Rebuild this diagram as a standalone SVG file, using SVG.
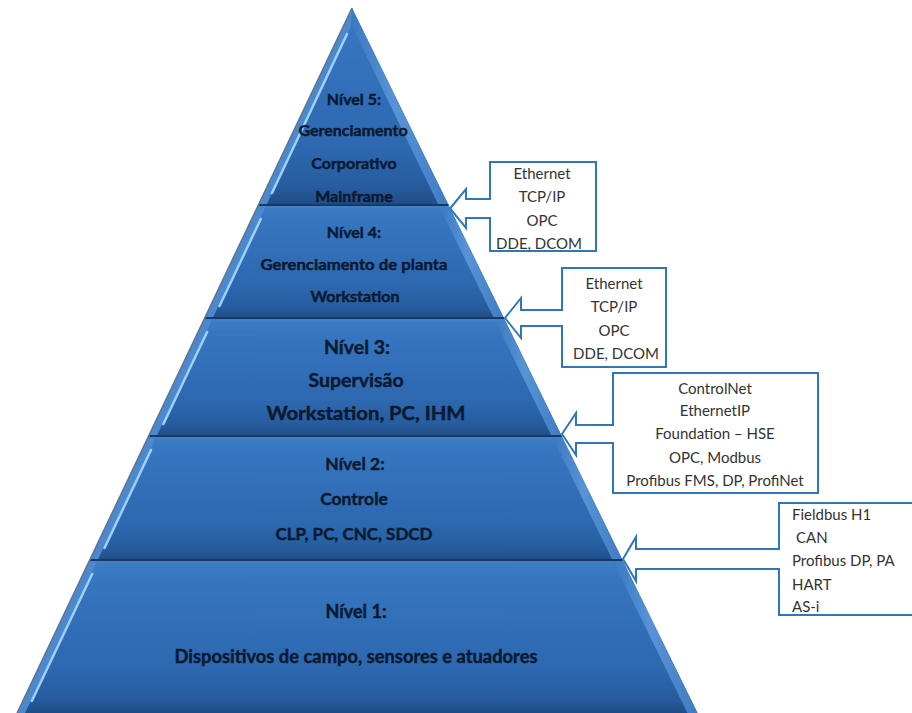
<svg xmlns="http://www.w3.org/2000/svg" width="912" height="713" viewBox="0 0 912 713">
  <defs>
    <linearGradient id="bandFill" x1="0" y1="0" x2="0" y2="1">
      <stop offset="0" stop-color="#3f7fc7"/>
      <stop offset="0.12" stop-color="#3676c0"/>
      <stop offset="0.7" stop-color="#2d68b0"/>
      <stop offset="0.9" stop-color="#275d9f"/>
      <stop offset="1" stop-color="#1f4c86"/>
    </linearGradient>
    <linearGradient id="rightBevel" x1="0" y1="0" x2="1" y2="0">
      <stop offset="0" stop-color="#3a78c0"/>
      <stop offset="0.45" stop-color="#5893d6"/>
      <stop offset="1" stop-color="#3f7cc3"/>
    </linearGradient>
    <filter id="soft" x="-5%" y="-5%" width="110%" height="110%">
      <feGaussianBlur stdDeviation="0.6"/>
    </filter>
  </defs>
  <style>
    .band { fill: url(#bandFill); }
    .lbevel { fill: #4b89cf; }
    .rbevel { fill: url(#rightBevel); }
    .hilite { stroke: #9fd0f6; stroke-width: 2.5; stroke-linecap: round; fill: none; }
    .sep { stroke: #183963; stroke-width: 2; }
    .sepl { stroke: #4583c8; stroke-width: 1; }
    .edge { stroke: #5f7592; stroke-width: 1.6; fill: none; }
    .lvl { font-family: Lato, "Liberation Sans", sans-serif; font-weight: bold; fill: #0c1a30; stroke: #0c1a30; stroke-width: 0.45; text-anchor: middle; }
    .call { fill: #ffffff; stroke: #2f77bd; stroke-width: 2; stroke-linejoin: miter; }
    .ct { font-family: Lato, "Liberation Sans", sans-serif; font-size: 15px; fill: #333333; }
    .ctc { text-anchor: middle; }
  </style>

  <rect width="912" height="713" fill="#ffffff"/>

  <!-- Pyramid bands, top to bottom -->
  <g id="level5">
    <polygon class="band" points="352,8 448.5,205 258.4,205"/>
    <polygon class="lbevel" points="352,8 258.4,205 266.4,205 352,24" filter="url(#soft)"/>
    <polygon class="rbevel" points="352,8 448.5,205 438.5,205 351,24" filter="url(#soft)"/>
    <line class="hilite" x1="347" y1="34" x2="272" y2="193" filter="url(#soft)"/>
    <text class="lvl" x="354" y="105" font-size="16">Nível 5:</text>
    <text class="lvl" x="353" y="136" font-size="16">Gerenciamento</text>
    <text class="lvl" x="354" y="169" font-size="16">Corporativo</text>
    <text class="lvl" x="354" y="202" font-size="16">Mainframe</text>
  </g>

  <g id="level4">
    <polygon class="band" points="258.4,205 448.5,205 503.9,318 204.75,318"/>
    <polygon class="lbevel" points="258.4,205 204.75,318 212.75,318 266.4,205" filter="url(#soft)"/>
    <polygon class="rbevel" points="448.5,205 503.9,318 493.9,318 438.5,205" filter="url(#soft)"/>
    <line class="hilite" x1="260.8" y1="219" x2="219.5" y2="306" filter="url(#soft)"/>
    <text class="lvl" x="354" y="238" font-size="16">Nível 4:</text>
    <text class="lvl" x="354" y="270" font-size="16" textLength="187" lengthAdjust="spacingAndGlyphs">Gerenciamento de planta</text>
    <text class="lvl" x="355" y="302" font-size="16">Workstation</text>
  </g>

  <g id="level3">
    <polygon class="band" points="204.75,318 503.9,318 561.7,436 148.7,436"/>
    <polygon class="lbevel" points="204.75,318 148.7,436 156.7,436 212.75,318" filter="url(#soft)"/>
    <polygon class="rbevel" points="503.9,318 561.7,436 551.7,436 493.9,318" filter="url(#soft)"/>
    <line class="hilite" x1="207.1" y1="332" x2="163.4" y2="424" filter="url(#soft)"/>
    <text class="lvl" x="357" y="354" font-size="19.5">Nível 3:</text>
    <text class="lvl" x="356" y="387" font-size="19.5">Supervisão</text>
    <text class="lvl" x="366" y="420" font-size="19.5" textLength="199" lengthAdjust="spacingAndGlyphs">Workstation, PC, IHM</text>
  </g>

  <g id="level2">
    <polygon class="band" points="148.7,436 561.7,436 622.5,560 89.8,560"/>
    <polygon class="lbevel" points="148.7,436 89.8,560 97.8,560 156.7,436" filter="url(#soft)"/>
    <polygon class="rbevel" points="561.7,436 622.5,560 612.5,560 551.7,436" filter="url(#soft)"/>
    <line class="hilite" x1="151" y1="450" x2="104.5" y2="548" filter="url(#soft)"/>
    <text class="lvl" x="355" y="470" font-size="17.5">Nível 2:</text>
    <text class="lvl" x="354" y="505" font-size="17.5">Controle</text>
    <text class="lvl" x="354" y="540" font-size="17.5" textLength="157" lengthAdjust="spacingAndGlyphs">CLP, PC, CNC, SDCD</text>
  </g>

  <g id="level1">
    <polygon class="band" points="89.8,560 622.5,560 697.5,713 17.1,713"/>
    <polygon class="lbevel" points="89.8,560 17.1,713 25.1,713 97.8,560" filter="url(#soft)"/>
    <polygon class="rbevel" points="622.5,560 697.5,713 687.5,713 612.5,560" filter="url(#soft)"/>
    <line class="hilite" x1="92.2" y1="574" x2="31.8" y2="701" filter="url(#soft)"/>
    <text class="lvl" x="356" y="618" font-size="18">Nível 1:</text>
    <text class="lvl" x="356" y="663" font-size="18" textLength="363" lengthAdjust="spacingAndGlyphs">Dispositivos de campo, sensores e atuadores</text>
  </g>

  <!-- Band separators and outer left edge -->
  <g id="separators">
    <line class="sep" x1="258.4" y1="205" x2="448.5" y2="205"/>
    <line class="sepl" x1="258" y1="207" x2="449" y2="207"/>
    <line class="sep" x1="204.75" y1="318" x2="503.9" y2="318"/>
    <line class="sepl" x1="205" y1="320" x2="504" y2="320"/>
    <line class="sep" x1="148.7" y1="436" x2="561.7" y2="436"/>
    <line class="sepl" x1="148" y1="438" x2="562" y2="438"/>
    <line class="sep" x1="89.8" y1="560" x2="622.5" y2="560"/>
    <line class="sepl" x1="89" y1="562" x2="623" y2="562"/>
    <polyline class="edge" points="352,8 17.1,713"/>
  </g>

  <!-- Protocol callouts pointing at the level boundaries -->
  <g id="connectors">
    <g id="callout-54">
      <path class="call" d="M490,162 H596 V251 H490 V218 H466 V228 L450,208.5 L466,189 V199 H490 Z"/>
      <text class="ct ctc" x="542" y="179">Ethernet</text>
      <text class="ct ctc" x="542" y="202">TCP/IP</text>
      <text class="ct ctc" x="542" y="226">OPC</text>
      <text class="ct ctc" x="539" y="249">DDE, DCOM</text>
    </g>
    <g id="callout-43">
      <path class="call" d="M562,268 H666 V367 H562 V326 H521 V338 L505,318 L521,298 V310 H562 Z"/>
      <text class="ct ctc" x="614" y="289">Ethernet</text>
      <text class="ct ctc" x="614" y="312">TCP/IP</text>
      <text class="ct ctc" x="614" y="336">OPC</text>
      <text class="ct ctc" x="616" y="359">DDE, DCOM</text>
    </g>
    <g id="callout-32">
      <path class="call" d="M613,373 H818 V493 H613 V443 H576 V455 L562,434 L576,413 V425 H613 Z"/>
      <text class="ct ctc" x="715" y="394">ControlNet</text>
      <text class="ct ctc" x="715" y="416">EthernetIP</text>
      <text class="ct ctc" x="715" y="439">Foundation – HSE</text>
      <text class="ct ctc" x="715" y="463">OPC, Modbus</text>
      <text class="ct ctc" x="715" y="486">Profibus FMS, DP, ProfiNet</text>
    </g>
    <g id="callout-21">
      <path class="call" d="M779,503 H914 V615 H779 V569 H636 V581 L623,559 L636,537 V549 H779 Z"/>
      <text class="ct" x="792" y="520">Fieldbus H1</text>
      <text class="ct" x="796" y="543">CAN</text>
      <text class="ct" x="792" y="566">Profibus DP, PA</text>
      <text class="ct" x="792" y="590">HART</text>
      <text class="ct" x="792" y="612">AS-i</text>
    </g>
  </g>
</svg>
